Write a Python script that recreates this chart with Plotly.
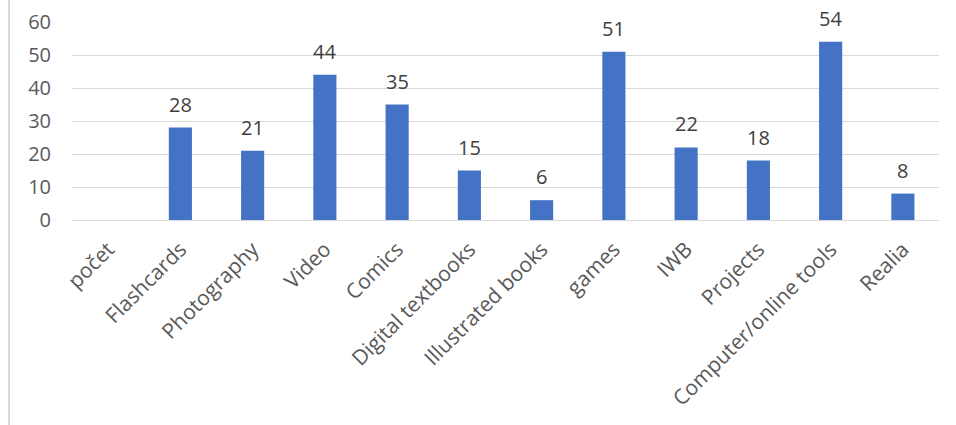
import plotly.graph_objects as go

categories = ["počet", "Flashcards", "Photography", "Video", "Comics", "Digital textbooks",
              "Illustrated books", "games", "IWB", "Projects", "Computer/online tools", "Realia"]
values = [None, 28, 21, 44, 35, 15, 6, 51, 22, 18, 54, 8]

fig = go.Figure(go.Bar(
    x=categories, y=values,
    marker=dict(color="#4472C4", line=dict(width=0)),
    cliponaxis=False,
))

annotations = [
    dict(x=c, y=v, text=str(v), showarrow=False, xref="x", yref="y",
         yanchor="bottom", yshift=9, borderpad=0,
         font=dict(family="Open Sans", size=20, color="#404040"))
    for c, v in zip(categories, values) if v is not None
]

fig.update_layout(
    width=956, height=425,
    margin=dict(l=72, r=17, t=22, b=205, autoexpand=False),
    paper_bgcolor="white", plot_bgcolor="white",
    bargap=0.68,
    showlegend=False,
    font=dict(family="Open Sans", color="#595959"),
    xaxis=dict(tickangle=-45, tickfont=dict(size=21, color="#595959"),
               showgrid=False, showline=False, ticks="", automargin=False,
               ticklabelstandoff=12),
    yaxis=dict(range=[0, 60], dtick=10, tickfont=dict(size=20, color="#595959"),
               showgrid=True, gridcolor="#d9d9d9", gridwidth=1,
               zeroline=True, zerolinecolor="#d9d9d9", zerolinewidth=1,
               ticks="", ticklabelstandoff=20, automargin=False),
    annotations=annotations,
    shapes=[dict(type="line", xref="paper", yref="paper",
                 x0=-0.0727, x1=-0.0727, y0=-1.1, y1=1.12,
                 line=dict(color="#d9d9d9", width=2))],
)

fig.write_html("out.html",
               config={"displayModeBar": False},
               post_script="document.body.style.margin='0';document.body.style.overflow='hidden';")
